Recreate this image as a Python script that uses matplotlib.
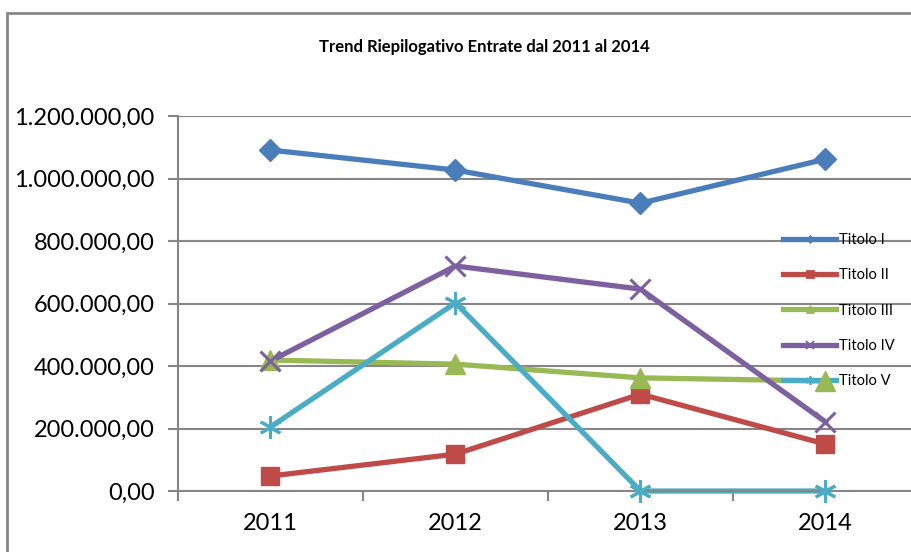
import matplotlib
matplotlib.use("Agg")
from matplotlib import pyplot as plt
from matplotlib.lines import Line2D
from matplotlib.patches import Rectangle
from matplotlib.ticker import FuncFormatter

years = ["2011", "2012", "2013", "2014"]
titolo_1 = [1091000, 1027000, 921000, 1062000]
titolo_2 = [48000, 118000, 310000, 150000]
titolo_3 = [419000, 406000, 362000, 352000]
titolo_4 = [416000, 720000, 646000, 221000]
titolo_5 = [205000, 602000, 0, 0]
series_names = ["Titolo I", "Titolo II", "Titolo III", "Titolo IV", "Titolo V"]


def it_format(v, pos):
    s = "{:,.2f}".format(v)
    return s.replace(",", "X").replace(".", ",").replace("X", ".")


plt.rcParams['font.family'] = ['Lato', 'DejaVu Sans']

W, H = 912, 552
fig = plt.figure(figsize=(W / 100, H / 100), dpi=100)
fig.patches.append(Rectangle((7 / W, -0.1), 1.2, 1 - 13 / H + 0.1, transform=fig.transFigure,
                             fill=False, edgecolor="#868686", linewidth=2))

left, right, bottom, top = 178, 918, 491, 116
ax = fig.add_axes([left / W, 1 - bottom / H, (right - left) / W, (bottom - top) / H])

x = [1, 2, 3, 4]
styles = [
    (titolo_1, "#4A7EBB", "D", 11),
    (titolo_2, "#BE4B48", "s", 13),
    (titolo_3, "#98B954", "^", 14),
    (titolo_4, "#7D60A0", "x", 14),
    (titolo_5, "#4BACC6", (6, 2, 0), 16),
]
handles = []
for (vals, col, mk, ms), name in zip(styles, series_names):
    mew = 2.2 if mk in ("x",) or isinstance(mk, tuple) else 1
    # lines under the legend, markers over it (as Excel drew it)
    ax.plot(x, vals, color=col, linewidth=3.8, zorder=2, clip_on=False)
    ax.plot(x, vals, linestyle="none", marker=mk, markersize=ms,
            markeredgewidth=mew, markeredgecolor=col, markerfacecolor=col,
            zorder=5, clip_on=False)
    handles.append(Line2D([], [], color=col, linewidth=3.8, marker=mk, markersize=ms * 0.4,
                          markeredgewidth=mew * 0.6, markeredgecolor=col,
                          markerfacecolor=col, label=name))

ax.set_xlim(0.5, 4.5)
ax.set_ylim(0, 1200000)
ax.set_yticks(range(0, 1200001, 200000))
ax.yaxis.set_major_formatter(FuncFormatter(it_format))
ax.grid(axis="y", color="#868686", linewidth=1.5, zorder=0)
ax.set_xticks(x)
ax.set_xticklabels(years)
ax.set_xticks([0.5, 1.5, 2.5, 3.5, 4.5], minor=True)
ax.tick_params(axis="x", which="major", length=0, labelsize=17, pad=16)
ax.tick_params(axis="x", which="minor", length=7, width=1.5, color="#868686", direction="out")
ax.tick_params(axis="y", length=7, width=1.5, color="#868686", labelsize=17, pad=10)
for s in ["top", "right"]:
    ax.spines[s].set_visible(False)
ax.spines["left"].set_color("#868686")
ax.spines["left"].set_linewidth(1.5)
ax.spines["bottom"].set_color("#868686")
ax.spines["bottom"].set_linewidth(1.5)

fig.text(484 / W, 1 - 47 / H, "Trend Riepilogativo Entrate dal 2011 al 2014",
         ha="center", va="center", fontsize=12, fontweight="bold")

leg = ax.legend(handles=handles, loc="upper left", bbox_to_anchor=(776 / W, 1 - 226 / H),
                bbox_transform=fig.transFigure,
                frameon=False, fontsize=10.5, handlelength=3.6, labelspacing=1.45,
                handletextpad=0.25, borderpad=0)
leg.set_zorder(4)

fig.savefig("out.png", dpi=100)
